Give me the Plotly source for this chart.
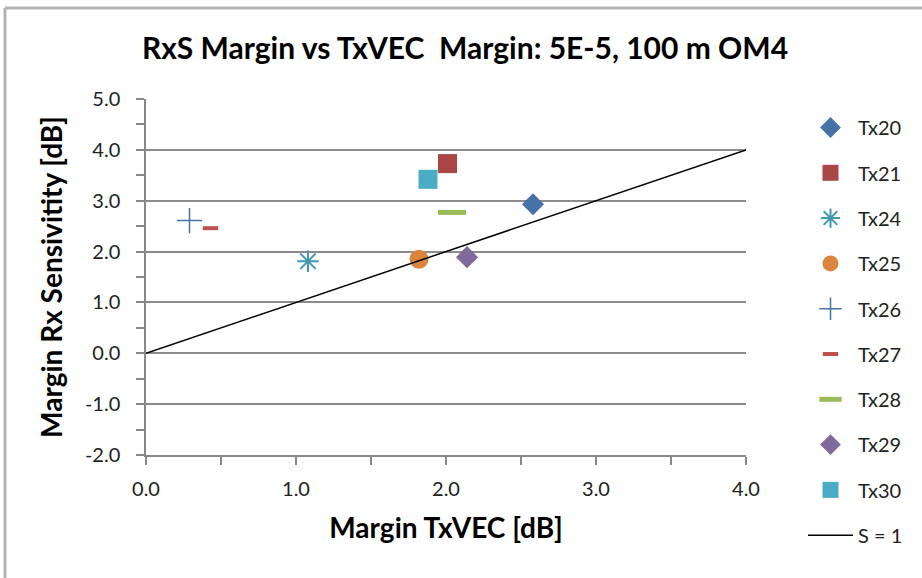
import plotly.graph_objects as go

names = ["Tx20", "Tx21", "Tx24", "Tx25", "Tx26", "Tx27", "Tx28", "Tx29", "Tx30"]
x_vals = [2.58, 2.01, 1.08, 1.82, 0.29, 0.43, 2.04, 2.14, 1.88]
y_vals = [2.93, 3.73, 1.81, 1.85, 2.61, 2.46, 2.77, 1.89, 3.42]
colors = ["#4572A7", "#AA4643", "#4198AF", "#DB843D", "#4572A7", "#C0504D", "#9BBB59", "#80699B", "#4BACC6"]
symbols = ["diamond", "square", "asterisk-open", "circle", "cross-thin-open", "line-ew-open", "line-ew-open", "diamond", "square"]
sizes = [17, 19, 18, 19, 18, 11, 20, 17, 19]
line_widths = [0, 0, 2, 0, 1.5, 4, 5, 0, 0]
ref_x = [0.0, 4.0]
ref_y = [0.0, 4.0]
x_ticks = [0, 1, 2, 3, 4]
x_tick_text = ["0.0", "1.0", "2.0", "3.0", "4.0"]
y_ticks = [-2, -1, 0, 1, 2, 3, 4, 5]
y_tick_text = ["-2.0", "-1.0", "0.0", "1.0", "2.0", "3.0", "4.0", "5.0"]

FONT = "Lato"
W, H = 922, 578
L, R, T, B = 146, 746, 99, 455

fig = go.Figure()
for i, n in enumerate(names):
    fig.add_trace(go.Scatter(
        x=[x_vals[i]], y=[y_vals[i]], mode="markers", name=n, legendgroup=n,
        marker=dict(symbol=symbols[i], size=sizes[i], color=colors[i],
                    line=dict(color=colors[i], width=line_widths[i]))))
fig.add_trace(go.Scatter(x=ref_x, y=ref_y, mode="lines", name="S = 1", legendgroup="S",
                         line=dict(color="black", width=1.5)))

tick_font = dict(size=20, color="#222", family=FONT)
axis_common = dict(zeroline=False, showline=True, linecolor="#888", linewidth=1.5,
                   ticks="outside", ticklen=8, tickcolor="#888", tickwidth=1.5, tickfont=tick_font)

fig.update_layout(
    width=W, height=H,
    margin=dict(l=L, r=W - R, t=T, b=H - B),
    paper_bgcolor="white", plot_bgcolor="white",
    font=dict(family=FONT, size=20, color="#222"),
    title=dict(text="<b>RxS Margin vs TxVEC  Margin: 5E-5, 100 m OM4</b>",
               x=465 / W, xref="container", xanchor="center", y=1 - 48 / H, yanchor="middle",
               font=dict(size=30, color="black", family=FONT)),
    showlegend=True,
    legend=dict(x=(803 - L) / (R - L), xanchor="left", y=(B - 108) / (B - T), yanchor="top",
                font=dict(size=20, color="#222"), tracegroupgap=16.3, itemwidth=45,
                bgcolor="rgba(0,0,0,0)", maxheight=520),
    xaxis=dict(range=[0, 4], tickmode="array", tickvals=x_ticks, ticktext=x_tick_text, showgrid=False,
               minor=dict(tickmode="linear", tick0=0, dtick=0.5, ticks="outside", ticklen=8, tickcolor="#888", tickwidth=1.5),
               ticklabelstandoff=7,
               title=dict(text="<b>Margin TxVEC [dB]</b>", font=dict(size=28, color="black"), standoff=20),
               **axis_common),
    yaxis=dict(range=[-2, 5], tickmode="array", tickvals=y_ticks, ticktext=y_tick_text,
               showgrid=True, gridcolor="#8c8c8c", gridwidth=1.5,
               minor=dict(tickmode="linear", tick0=0, dtick=0.5, ticks="outside", ticklen=8, tickcolor="#888", tickwidth=1.5),
               ticklabelstandoff=12,
               title=dict(text="<b>Margin Rx Sensivitity [dB]</b>", font=dict(size=28, color="black"), standoff=14),
               **axis_common),
)
# outer chart border (top and left edges visible in the reference)
bx = (5 - L) / (R - L)
by = (B - 8) / (B - T)
fig.add_shape(type="line", xref="paper", yref="paper", x0=bx, x1=1.5, y0=by, y1=by,
              line=dict(color="#b4b4b4", width=3))
fig.add_shape(type="line", xref="paper", yref="paper", x0=bx, x1=bx, y0=by, y1=-0.5,
              line=dict(color="#b4b4b4", width=3))
fig.write_html("out.html", post_script="document.body.style.margin='0px';",
               config={"displayModeBar": False})
